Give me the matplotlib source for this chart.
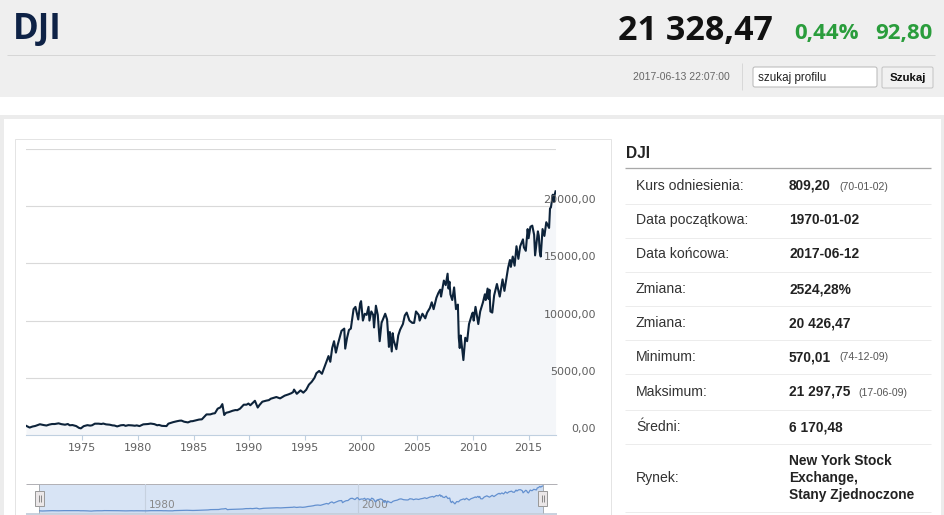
import matplotlib
matplotlib.use("Agg")
import matplotlib.pyplot as plt
import matplotlib.patches as mpatches
import pandas as pd

# ---------------- data ----------------
dates = ["1970-01", "1970-05", "1970-08", "1970-11", "1971-02", "1971-04", "1971-08", "1971-11",
         "1972-02", "1972-05", "1972-08", "1972-12", "1973-03", "1973-07", "1973-10", "1973-12",
         "1974-03", "1974-07", "1974-10", "1974-12", "1975-03", "1975-07", "1975-10", "1975-12",
         "1976-03", "1976-07", "1976-10", "1976-12", "1977-03", "1977-07", "1977-10", "1977-12",
         "1978-03", "1978-07", "1978-10", "1978-12", "1979-03", "1979-07", "1979-10", "1979-12",
         "1980-03", "1980-07", "1980-10", "1980-12", "1981-03", "1981-07", "1981-10", "1981-12",
         "1982-03", "1982-08", "1982-10", "1982-12", "1983-03", "1983-07", "1983-10", "1983-12",
         "1984-03", "1984-07", "1984-10", "1984-12", "1985-03", "1985-07", "1985-10", "1985-12",
         "1986-03", "1986-07", "1986-10", "1986-12", "1987-03", "1987-06", "1987-08", "1987-10",
         "1987-12", "1988-03", "1988-07", "1988-10", "1988-12", "1989-03", "1989-07", "1989-10",
         "1989-12", "1990-02", "1990-07", "1990-10", "1990-12", "1991-03", "1991-07", "1991-10",
         "1991-12", "1992-03", "1992-06", "1992-10", "1992-12", "1993-03", "1993-07", "1993-10",
         "1993-12", "1994-01", "1994-04", "1994-08", "1994-11", "1995-02", "1995-05", "1995-08",
         "1995-11", "1996-01", "1996-04", "1996-07", "1996-10", "1996-12", "1997-02", "1997-04",
         "1997-06", "1997-08", "1997-10", "1997-12", "1998-02", "1998-04", "1998-07", "1998-08",
         "1998-10", "1998-12", "1999-02", "1999-05", "1999-07", "1999-10", "1999-12", "2000-01",
         "2000-03", "2000-05", "2000-07", "2000-09", "2000-10", "2000-12", "2001-02", "2001-03",
         "2001-05", "2001-07", "2001-09", "2001-11", "2001-12", "2002-03", "2002-05", "2002-07",
         "2002-08", "2002-10", "2002-11", "2002-12", "2003-03", "2003-05", "2003-07", "2003-10",
         "2003-12", "2004-02", "2004-05", "2004-08", "2004-10", "2004-12", "2005-03", "2005-04",
         "2005-07", "2005-10", "2005-12", "2006-03", "2006-05", "2006-07", "2006-10", "2006-12",
         "2007-02", "2007-03", "2007-06", "2007-08", "2007-10", "2007-11", "2007-12", "2008-01",
         "2008-03", "2008-05", "2008-07", "2008-09", "2008-10", "2008-11", "2008-12", "2009-01",
         "2009-03", "2009-05", "2009-07", "2009-09", "2009-12", "2010-01", "2010-02", "2010-04",
         "2010-07", "2010-09", "2010-12", "2011-02", "2011-03", "2011-05", "2011-06", "2011-07",
         "2011-08", "2011-10", "2011-12", "2012-03", "2012-06", "2012-09", "2012-11", "2012-12",
         "2013-03", "2013-05", "2013-06", "2013-08", "2013-10", "2013-12", "2014-02", "2014-04",
         "2014-07", "2014-08", "2014-10", "2014-12", "2015-01", "2015-03", "2015-05", "2015-07",
         "2015-08", "2015-11", "2015-12", "2016-01", "2016-02", "2016-04", "2016-06", "2016-08",
         "2016-11", "2016-12", "2017-01", "2017-03", "2017-04", "2017-05", "2017-06"]
values = [809, 650, 740, 790, 880, 940, 870, 830,
          910, 960, 960, 1020, 950, 900, 960, 850,
          870, 780, 620, 580, 770, 860, 820, 850,
          990, 990, 960, 1000, 930, 900, 840, 830,
          750, 850, 870, 800, 860, 840, 810, 840,
          780, 930, 950, 960, 1000, 950, 850, 880,
          800, 780, 990, 1040, 1120, 1200, 1250, 1260,
          1160, 1100, 1200, 1210, 1270, 1350, 1370, 1540,
          1800, 1800, 1880, 1900, 2300, 2420, 2700, 1750,
          1940, 2000, 2120, 2180, 2170, 2300, 2650, 2650,
          2750, 2600, 2990, 2400, 2630, 2910, 3000, 3050,
          3170, 3240, 3320, 3200, 3300, 3440, 3550, 3650,
          3750, 3970, 3600, 3900, 3700, 3950, 4400, 4650,
          5000, 5400, 5600, 5350, 6000, 6450, 6900, 6400,
          7600, 8200, 7200, 7900, 8500, 9100, 9300, 7550,
          8500, 9180, 9300, 11000, 11200, 10100, 11500, 11700,
          10000, 10600, 10500, 11200, 10000, 10800, 10500, 9400,
          11300, 10500, 8200, 9800, 10000, 10600, 10100, 7700,
          9000, 7300, 8900, 8300, 7500, 8700, 9200, 9700,
          10450, 10700, 10000, 9800, 9800, 10800, 10500, 10000,
          10600, 10200, 10700, 11100, 11600, 11000, 12000, 12400,
          12700, 12100, 13500, 13100, 14100, 12800, 13400, 12300,
          11800, 12900, 11000, 11400, 8500, 7600, 8700, 8000,
          6550, 8500, 8200, 9700, 10500, 10700, 10000, 11200,
          9700, 10800, 11600, 12300, 11800, 12800, 11900, 12700,
          10800, 10700, 12200, 13200, 12100, 13600, 12600, 13100,
          14600, 15300, 14700, 15600, 14800, 16500, 15400, 16500,
          17100, 16400, 16100, 18000, 17200, 18200, 18300, 17500,
          15700, 17800, 17400, 16000, 15600, 18000, 17400, 18600,
          18100, 19800, 19900, 21000, 20400, 21000, 21300]

year_ticks = [1975, 1980, 1985, 1990, 1995, 2000, 2005, 2010, 2015]
y_ticks = [0, 5000, 10000, 15000, 20000, 25000]
y_tick_labels = ["0,00", "5000,00", "10000,00", "15000,00", "20000,00"]
nav_ticks = [1980, 2000]

panel_labels = ["Kurs odniesienia:", "Data początkowa:", "Data końcowa:", "Zmiana:", "Zmiana:",
                "Minimum:", "Maksimum:", "Średni:", "Rynek:"]
panel_values = ["809,20", "1970-01-02", "2017-06-12", "2524,28%", "20 426,47",
                "570,01", "21 297,75", "6 170,48", "New York Stock\nExchange,\nStany Zjednoczone"]
panel_notes = ["(70-01-02)", "", "", "", "", "(74-12-09)", "(17-06-09)", "", ""]

ticker = "DJI"
last_price = "21 328,47"
change_pct = "0,44%"
change_abs = "92,80"
timestamp = "2017-06-13 22:07:00"

# ---------------- helpers ----------------
dt = pd.to_datetime(dates, format="%Y-%m")
xs = [d.year + (d.dayofyear - 1) / 365.25 for d in dt]

fig = plt.figure(figsize=(9.45, 5.15), dpi=100)
fig.patch.set_facecolor("white")
bg = fig.add_axes([0, 0, 1, 1])
bg.set_xlim(0, 945)
bg.set_ylim(515, 0)
bg.axis("off")

PX = 0.72  # one pixel in points


def rect(ax, x0, y0, x1, y1, fc, ec="none", lw=0, z=1):
    ax.add_patch(mpatches.Rectangle((x0, y0), x1 - x0, y1 - y0, facecolor=fc,
                                    edgecolor=ec, linewidth=lw, zorder=z))


def line(ax, xa, ya, c, lw=1, z=2):
    ax.plot(xa, ya, color=c, lw=lw * PX, zorder=z, solid_capstyle="butt")


OPEN = ["Open Sans", "DejaVu Sans"]
ARIAL = ["Liberation Sans", "DejaVu Sans"]
VERD = ["DejaVu Sans"]

# ---------------- header ----------------
rect(bg, 0, 0, 945, 97, "#efefef")
line(bg, [7, 935], [55, 55], "#d6d6d6")
bg.text(13, 39.5, ticker, family=OPEN, weight="bold", fontsize=25, color="#0e2246",
        ha="left", va="baseline")
bg.text(773, 40, last_price, family=OPEN, weight="bold", fontsize=24.5, color="#111111",
        ha="right", va="baseline")
bg.text(859, 39, change_pct, family=OPEN, weight="bold", fontsize=16, color="#2a9d3c",
        ha="right", va="baseline")
bg.text(933, 39, change_abs, family=OPEN, weight="bold", fontsize=16, color="#2a9d3c",
        ha="right", va="baseline")
bg.text(730, 77, timestamp, family=ARIAL, fontsize=7.5, color="#666666", ha="right", va="center")
line(bg, [742, 742], [63, 90], "#d8d8d8")
bg.add_patch(mpatches.FancyBboxPatch((753, 67), 124, 20, boxstyle="round,pad=0,rounding_size=2",
                                     facecolor="white", edgecolor="#b9b9b9", linewidth=PX, zorder=2))
bg.text(758, 77.5, "szukaj profilu", family=ARIAL, fontsize=8.4, color="#222222",
        ha="left", va="center", zorder=3)
bg.add_patch(mpatches.FancyBboxPatch((882, 67), 51, 21, boxstyle="round,pad=0,rounding_size=1.5",
                                     facecolor="#f1f1f1", edgecolor="#c4c4c4", linewidth=PX, zorder=2))
bg.text(907.5, 78, "Szukaj", family=ARIAL, weight="bold", fontsize=8.2, color="#111111",
        ha="center", va="center", zorder=3)

# panel border
rect(bg, 0, 115, 945, 119, "#ececec")
rect(bg, 0, 115, 4, 515, "#ececec")
rect(bg, 941, 115, 945, 515, "#ececec")

# chart box
rect(bg, 15, 139, 611, 530, "white", ec="#e4e4e4", lw=PX)

# ---------------- right info panel ----------------
bg.text(626, 153, ticker, family=ARIAL, weight="bold", fontsize=11.2, color="#222222",
        ha="left", va="center")
line(bg, [625, 931], [168, 168], "#a8a8a8", lw=1.3)
row_lines = [204, 238, 272, 306, 340, 374, 410, 444, 512]
row_centers = [186, 220, 254, 289, 323, 357, 392, 427, 478]
note_x = [839, 0, 0, 0, 0, 839, 858, 0, 0]
for yl in row_lines:
    line(bg, [625, 931], [yl, yl], "#ececec")
for lab, val, note, yc, nx in zip(panel_labels, panel_values, panel_notes, row_centers, note_x):
    bg.text(636, yc, lab, family=ARIAL, fontsize=10.1, color="#333333", ha="left", va="center")
    bg.text(789, yc, val, family=ARIAL, weight="bold", fontsize=9.9, color="#222222",
            ha="left", va="center", linespacing=1.25)
    if note:
        bg.text(nx, yc + 0.5, note, family=ARIAL, fontsize=7.6, color="#555555",
                ha="left", va="center")

# ---------------- main chart ----------------
ax = fig.add_axes([26 / 945, (515 - 435) / 515, 530 / 945, 286 / 515])
ax.set_facecolor("none")
ax.fill_between(xs, values, 0, color="#f4f6f9", lw=0, zorder=1)
ax.plot(xs, values, color="#0d233a", lw=1.5, zorder=3, solid_joinstyle="round")
ax.set_xlim(xs[0], xs[-1] + 0.04)
ax.set_ylim(y_ticks[0], y_ticks[-1])
ax.set_yticks(y_ticks)
ax.tick_params(axis="y", left=False, labelleft=False)
ax.grid(axis="y", color="#d9d9d9", lw=0.8)
ax.set_axisbelow(True)
for s in ["top", "left", "right"]:
    ax.spines[s].set_visible(False)
ax.spines["bottom"].set_color("#c0d0e0")
ax.spines["bottom"].set_linewidth(0.8)
ax.set_xticks(year_ticks)
ax.set_xticklabels([str(y) for y in year_ticks])
ax.tick_params(axis="x", length=3.8, width=0.8, color="#c0d0e0", labelsize=8,
               labelcolor="#606060", pad=2.2)
for lab in ax.get_xticklabels():
    lab.set_family(VERD)
for v, lab in zip(y_ticks, y_tick_labels):
    ax.annotate(lab, xy=(1, v), xycoords=("axes fraction", "data"), xytext=(40, 6),
                textcoords="offset pixels", ha="right", va="center", fontsize=8,
                color="#606060", family=VERD, annotation_clip=False)

# ---------------- navigator ----------------
line(bg, [26, 557], [484, 484], "#b2b1b6")
rect(bg, 39, 484, 543, 513, "#d8e4f5")
line(bg, [39, 39], [484, 513], "#a9aeb5")
line(bg, [543, 543], [484, 513], "#a9aeb5")
rect(bg, 26, 513, 557, 516, "#c9d2de")

nav = fig.add_axes([39 / 945, (515 - 513) / 515, 504 / 945, 29 / 515])
nav.set_facecolor("none")
nav.set_xlim(xs[0], xs[-1] + 0.04)
nav.set_ylim(-1000, 23000)
nav.axis("off")
for t in nav_ticks:
    nav.axvline(t, color="#c6d1df", lw=0.8, zorder=1)
    nav.annotate(str(t), xy=(t, 0), xycoords=("data", "axes fraction"), xytext=(4, 8),
                 textcoords="offset pixels", ha="left", va="center", fontsize=7.6,
                 color="#888888", family=VERD, annotation_clip=False)
nav.fill_between(xs, values, -1000, color="#4572a7", alpha=0.05, lw=0)
nav.plot(xs, values, color="#6390cf", lw=0.9, zorder=3)

# handles on top
fg = fig.add_axes([0, 0, 1, 1])
fg.set_xlim(0, 945)
fg.set_ylim(515, 0)
fg.axis("off")
for hx in (35, 538):
    rect(fg, hx, 491, hx + 9, 506, "#ebe7e8", ec="#9a9a9a", lw=PX, z=5)
    line(fg, [hx + 3.5, hx + 3.5], [495, 502], "#8a8a8a", z=6)
    line(fg, [hx + 5.5, hx + 5.5], [495, 502], "#8a8a8a", z=6)

fig.savefig("out.png", dpi=100, facecolor="white")
